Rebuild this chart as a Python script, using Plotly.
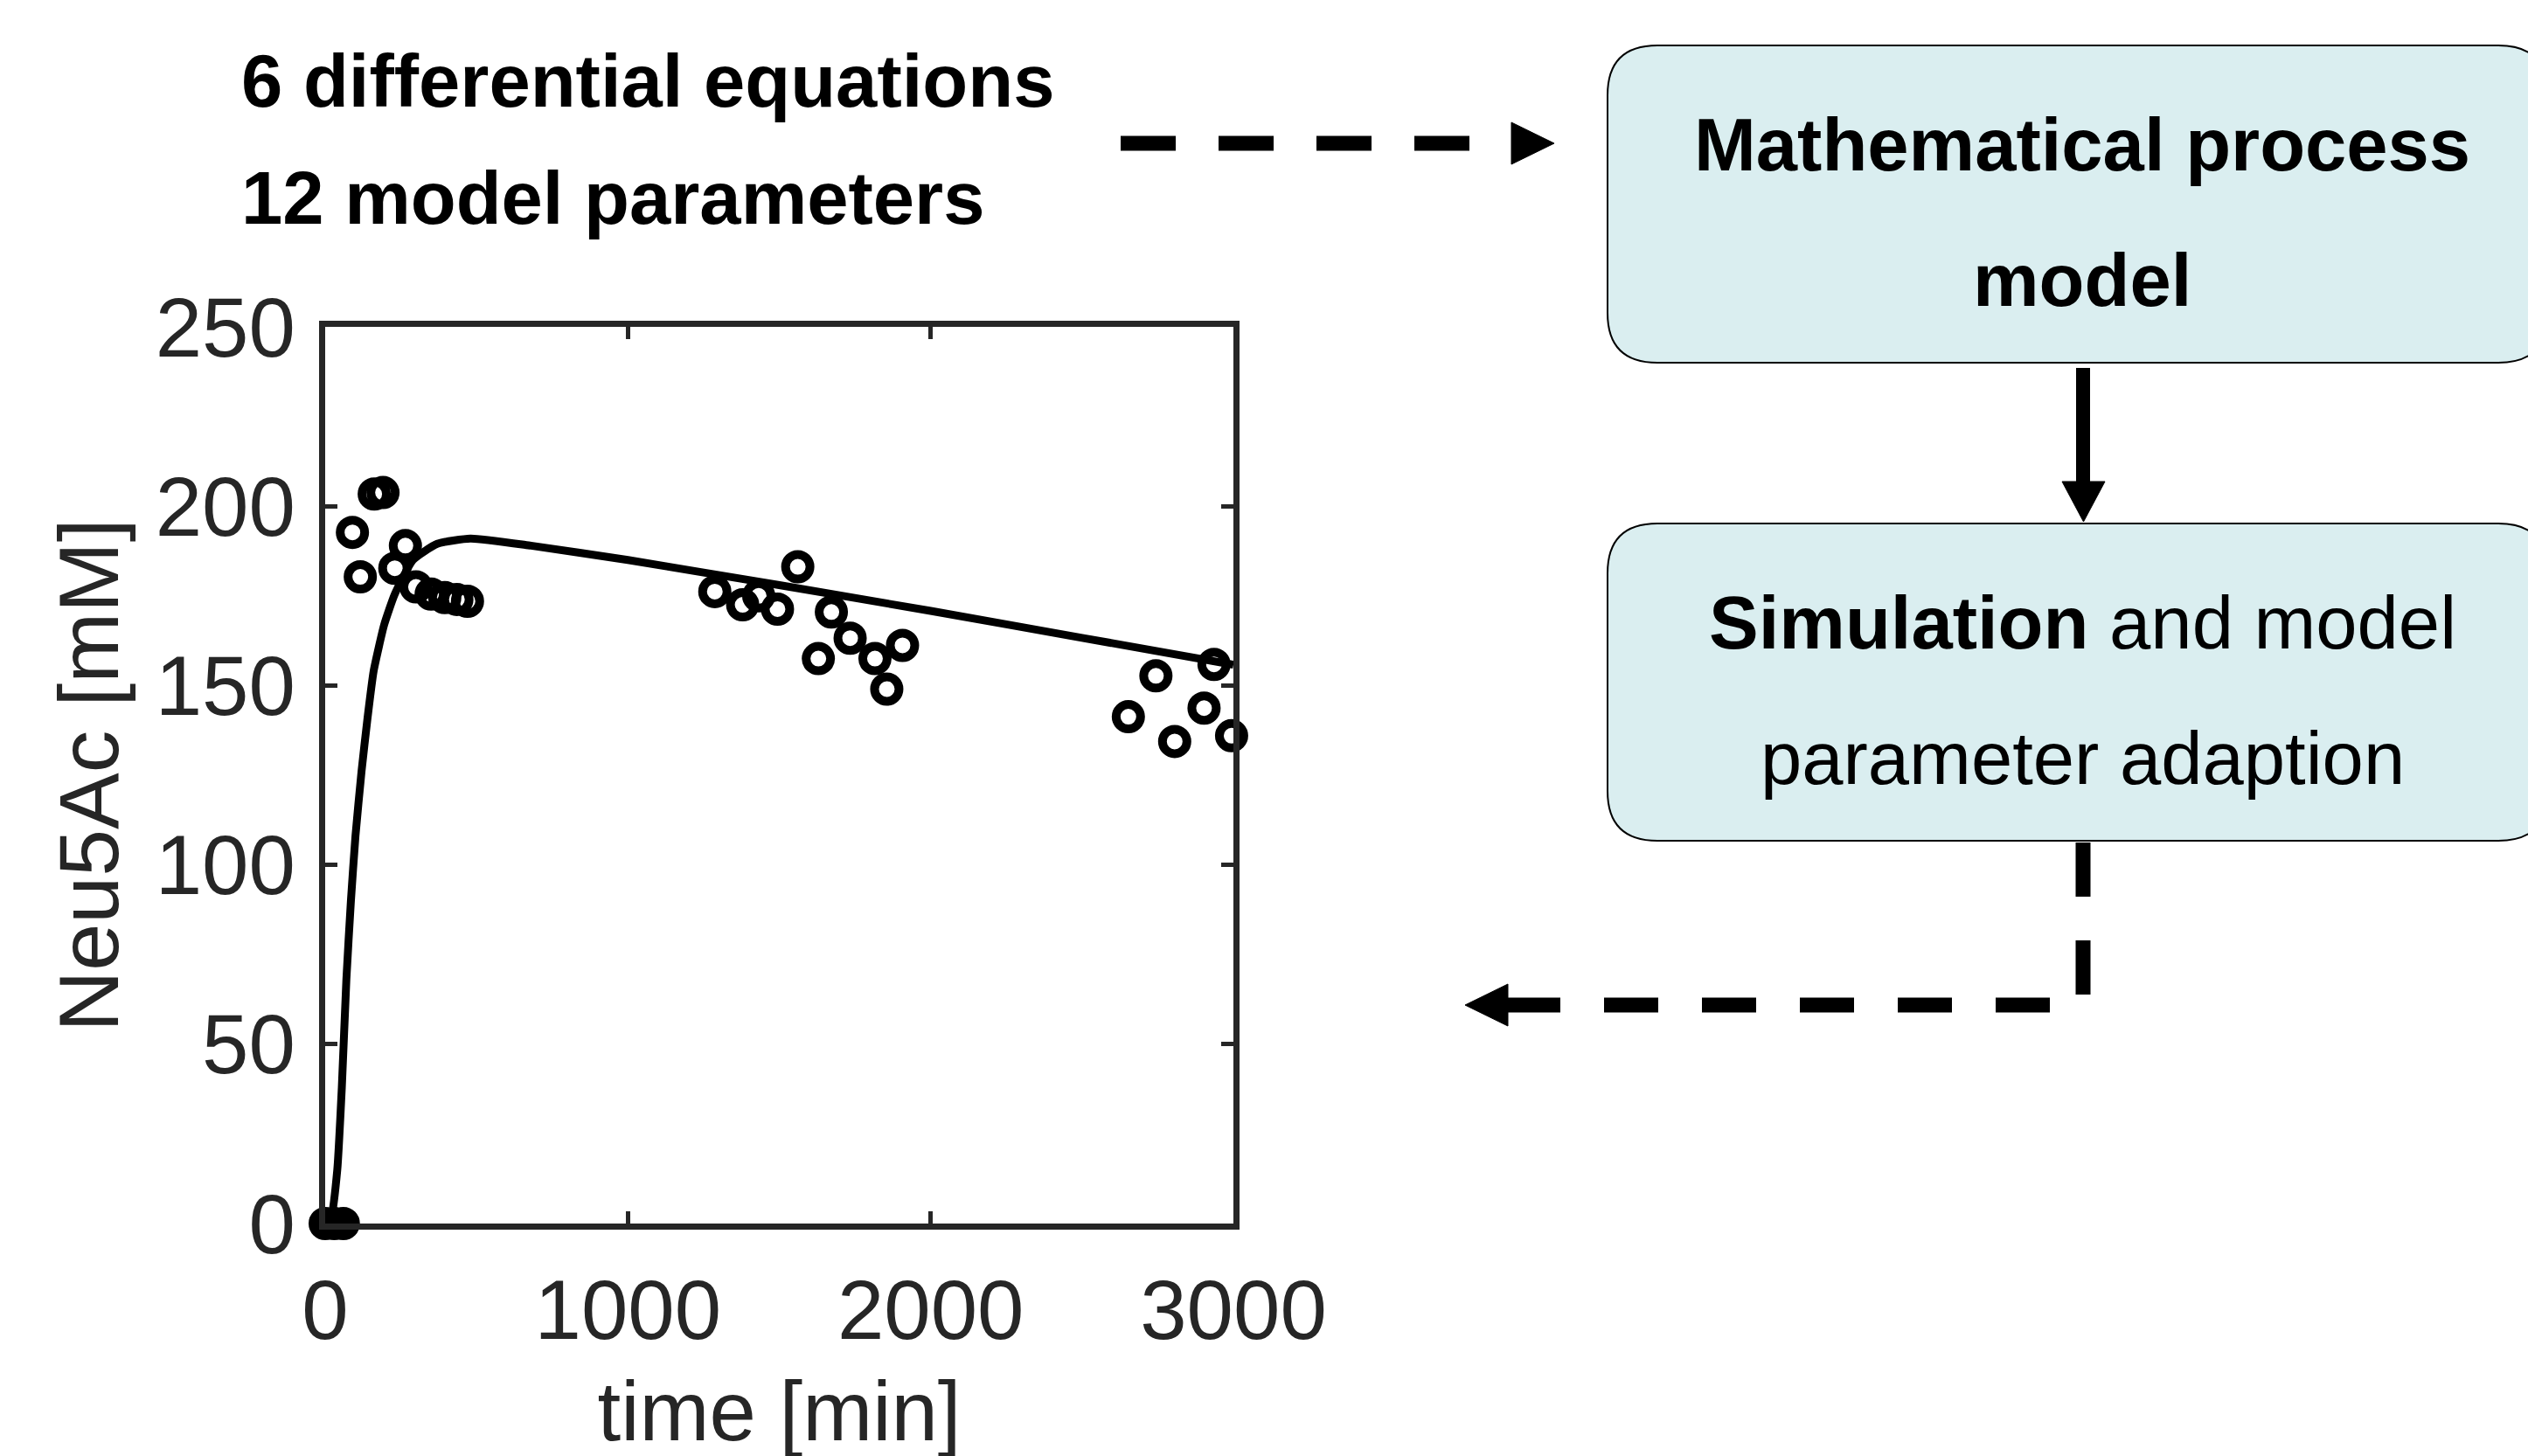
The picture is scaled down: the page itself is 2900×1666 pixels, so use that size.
import plotly.graph_objects as go

W, H = 2900, 1666

# ---------------- data ----------------
t_start = [0, 30, 60]
y_start = [0, 0, 0]

t_meas = [90, 116, 162, 191, 230, 265, 300, 350, 395, 435, 470,
          1287, 1379, 1432, 1494, 1561, 1629, 1672, 1734, 1816, 1855, 1907,
          2653, 2744, 2806, 2903, 2936, 2994]
y_meas = [192.7, 180.3, 203.4, 203.8, 182.7, 189.0, 177.5, 175.5, 174.5, 174.0, 173.5,
          176.2, 172.5, 175.0, 171.3, 183.1, 157.5, 170.5, 163.2, 157.5, 149.0, 161.2,
          141.3, 152.7, 134.4, 143.7, 155.9, 136.0]

t_model = [0, 20, 40, 55, 70, 85, 100, 120, 140, 160, 195, 230, 290, 370, 480, 680,
           1000, 1250, 1500, 2000, 2500, 3000]
y_model = [0, 2, 15, 38, 68, 90, 108, 126, 141, 154, 167, 175.5, 185, 189.5, 191, 189,
           185, 181.5, 178, 170.8, 163.3, 155.8]

x_ticks = [0, 1000, 2000, 3000]
y_ticks = [0, 50, 100, 150, 200, 250]

x_title = "time [min]"
y_title = "Neu5Ac [mM]"
note_lines = ["6 differential equations", "12 model parameters"]
box1_lines = ["<b>Mathematical process</b>", "<b>model</b>"]
box2_lines = ["<b>Simulation</b> and model", "parameter adaption"]

# ---------------- helpers (page pixel -> paper) ----------------
OFF = 8  # page body margin

def X(px):
    return (px - OFF) / W

def Y(py):
    return 1 - (py - OFF) / H

FONT = "Liberation Sans, Arial, Helvetica, sans-serif"
AX = "#262626"
BOXFILL = "#DAEEF0"

fig = go.Figure()

fig.add_trace(go.Scatter(x=t_model, y=y_model, mode="lines",
                         line=dict(color="black", width=9, shape="spline", smoothing=0.5),
                         cliponaxis=False, showlegend=False, hoverinfo="skip"))
fig.add_trace(go.Scatter(x=t_meas, y=y_meas, mode="markers",
                         marker=dict(symbol="circle-open", size=28, color="black",
                                     line=dict(width=10, color="black")),
                         cliponaxis=False, showlegend=False))
fig.add_trace(go.Scatter(x=t_start, y=y_start, mode="markers",
                         marker=dict(symbol="circle", size=32, color="black",
                                     line=dict(width=6, color="black")),
                         cliponaxis=False, showlegend=False))

# plot area in page pixels
L, R, T, B = 372, 1411, 374, 1400

axis_common = dict(showgrid=False, zeroline=False, showline=True, linewidth=7,
                   linecolor=AX, mirror="ticks", ticks="inside", ticklen=14,
                   tickwidth=5, tickcolor=AX, automargin=False,
                   tickfont=dict(family=FONT, size=96, color=AX))

fig.update_layout(
    width=W, height=H,
    margin=dict(l=0, r=0, t=0, b=0, autoexpand=False),
    paper_bgcolor="white", plot_bgcolor="white",
    showlegend=False,
    xaxis=dict(domain=[X(L), X(R)], range=[0, 3000], tickvals=x_ticks,
               ticklabelstandoff=10,
               title=dict(text=x_title, font=dict(family=FONT, size=96, color=AX), standoff=32),
               **axis_common),
    yaxis=dict(domain=[Y(B), Y(T)], range=[0, 250], tickvals=y_ticks,
               ticklabelstandoff=8,
               title=dict(text=y_title, font=dict(family=FONT, size=97, color=AX), standoff=12),
               **axis_common),
)

shapes = []

def rounded_box(x0, y0, x1, y1, r):
    p = (f"M {X(x0 + r)},{Y(y0)} L {X(x1 - r)},{Y(y0)} Q {X(x1)},{Y(y0)} {X(x1)},{Y(y0 + r)} "
         f"L {X(x1)},{Y(y1 - r)} Q {X(x1)},{Y(y1)} {X(x1 - r)},{Y(y1)} "
         f"L {X(x0 + r)},{Y(y1)} Q {X(x0)},{Y(y1)} {X(x0)},{Y(y1 - r)} "
         f"L {X(x0)},{Y(y0 + r)} Q {X(x0)},{Y(y0)} {X(x0 + r)},{Y(y0)} Z")
    return dict(type="path", xref="paper", yref="paper", path=p,
                fillcolor=BOXFILL, line=dict(color="black", width=2), layer="above")

shapes.append(rounded_box(1839, 52, 2915, 415, 57))
shapes.append(rounded_box(1839, 599, 2915, 962, 57))

def tri(pts):
    p = "M " + " L ".join(f"{X(a)},{Y(b)}" for a, b in pts) + " Z"
    return dict(type="path", xref="paper", yref="paper", path=p,
                fillcolor="black", line=dict(color="black", width=1), layer="above")

# top dashed arrow (text -> model box)
shapes.append(dict(type="path", xref="paper", yref="paper",
                   path=f"M {X(1282)},{Y(164)} L {X(1730)},{Y(164)}",
                   line=dict(color="black", width=17, dash="63px,49px"), layer="above"))
shapes.append(tri([(1729, 140), (1778, 164), (1729, 188)]))

# solid arrow between boxes
shapes.append(dict(type="path", xref="paper", yref="paper",
                   path=f"M {X(2383)},{Y(421)} L {X(2383)},{Y(556)}",
                   line=dict(color="black", width=16), layer="above"))
shapes.append(tri([(2359, 551), (2408, 551), (2383.5, 597)]))

# dashed feedback arrow (box 2 -> chart)
shapes.append(dict(type="path", xref="paper", yref="paper",
                   path=f"M {X(2383)},{Y(964)} L {X(2383)},{Y(1150)} L {X(1724)},{Y(1150)}",
                   line=dict(color="black", width=17, dash="62px,50px"), layer="above"))
shapes.append(tri([(1725, 1126), (1676, 1150), (1725, 1174)]))

fig.update_layout(shapes=shapes)

ann = []
for txt, yc in zip(note_lines, [92, 226]):
    ann.append(dict(xref="paper", yref="paper", x=X(274), y=Y(yc), text=f"<b>{txt}</b>",
                    showarrow=False, xanchor="left", yanchor="middle",
                    font=dict(family=FONT, size=85, color="black")))
for txt, yc in zip(box1_lines, [166, 320]):
    ann.append(dict(xref="paper", yref="paper", x=X(2382), y=Y(yc), text=txt,
                    showarrow=False, xanchor="center", yanchor="middle",
                    font=dict(family=FONT, size=85, color="black")))
for txt, yc in zip(box2_lines, [712, 867]):
    ann.append(dict(xref="paper", yref="paper", x=X(2382), y=Y(yc), text=txt,
                    showarrow=False, xanchor="center", yanchor="middle",
                    font=dict(family=FONT, size=85, color="black")))
fig.update_layout(annotations=ann)

fig.write_html("out.html")
